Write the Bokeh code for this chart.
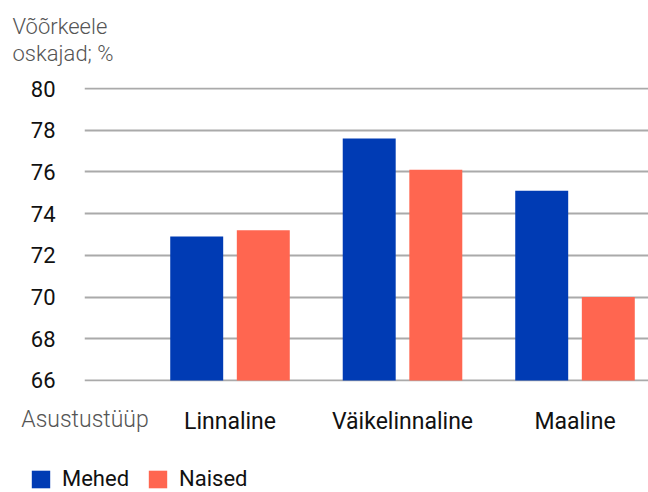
from bokeh.plotting import figure
from bokeh.layouts import column
from bokeh.models import (ColumnDataSource, Range1d, FixedTicker, Legend,
                          LegendItem, LinearAxis, Title)
from bokeh.transform import dodge
from bokeh.embed import file_html
from bokeh.resources import INLINE

categories = ["Linnaline", "Väikelinnaline", "Maaline"]
mehed = [72.9, 77.6, 75.1]
naised = [73.2, 76.1, 70.0]
y_ticks = [66, 68, 70, 72, 74, 76, 78, 80]
title_text = "Võõrkeele\noskajad; %"
x_title = "Asustustüüp"
series_names = ["Mehed", "Naised"]

BLUE = "#003bb4"
ORANGE = "#ff6650"
GREY = "#555555"

x_idx = list(range(len(categories)))
src = ColumnDataSource(dict(x=x_idx, mehed=mehed, naised=naised))

p = figure(width=648, height=462, output_backend="svg", toolbar_location=None,
           x_range=Range1d(-0.8435, 2.426), y_range=Range1d(65.952, 80.048),
           min_border_left=84, min_border_right=0, min_border_top=87,
           min_border_bottom=81)
p.outline_line_color = None
# pixel-like helper range for placing the x-axis title tick at the frame edge
p.extra_x_ranges = {"lab": Range1d(-0.5, 563.5)}

r1 = p.vbar(x=dodge("x", -0.193, range=p.x_range), top="mehed", bottom=66,
            width=0.307, source=src, color=BLUE, line_color=None)
r2 = p.vbar(x=dodge("x", 0.193, range=p.x_range), top="naised", bottom=66,
            width=0.307, source=src, color=ORANGE, line_color=None)


def strip(ax):
    ax.axis_line_color = None
    ax.major_tick_line_color = None
    ax.minor_tick_line_color = None
    ax.major_tick_out = 0
    ax.major_tick_in = 0


# x axis title as its own axis (closest to frame)
lab_axis = LinearAxis(x_range_name="lab", ticker=FixedTicker(ticks=[0]),
                      major_label_overrides={0: x_title})
strip(lab_axis)
lab_axis.major_label_standoff = 24
lab_axis.major_label_text_font = "Roboto Light"
lab_axis.major_label_text_font_size = "23px"
lab_axis.major_label_text_color = GREY

# category axis
xaxis = p.xaxis[0]
xaxis.ticker = FixedTicker(ticks=x_idx)
xaxis.major_label_overrides = {i: c for i, c in zip(x_idx, categories)}
strip(xaxis)
xaxis.major_label_standoff = -28
xaxis.major_label_text_font = "Roboto"
xaxis.major_label_text_font_size = "23px"
xaxis.major_label_text_color = "#111111"

p.yaxis.ticker = FixedTicker(ticks=y_ticks)
strip(p.yaxis[0])
p.yaxis.major_label_standoff = 29
p.yaxis.major_label_text_font = "Roboto"
p.yaxis.major_label_text_font_size = "22px"
p.yaxis.major_label_text_color = "#111111"

p.xgrid.grid_line_color = None
p.ygrid.ticker = FixedTicker(ticks=y_ticks)
p.ygrid.grid_line_color = "#aaaaaa"
p.ygrid.grid_line_width = 2

p.below = [lab_axis, xaxis]

spacer = Title(text=" ", text_font_size="2px", standoff=16)
title = Title(text=title_text, align="left", offset=-72,
              vertical_align="top", standoff=0,
              text_font="Roboto Light", text_font_size="22px",
              text_font_style="normal", text_color=GREY,
              text_line_height=1.097)
p.above = [spacer, title]

# legend strip below the chart
pl = figure(width=648, height=30, output_backend="svg", toolbar_location=None,
            x_axis_type=None, y_axis_type=None, min_border=0,
            x_range=Range1d(0, 1), y_range=Range1d(0, 1))
pl.frame_align = False
pl.outline_line_color = None
pl.grid.grid_line_color = None
l1 = pl.vbar(x="x", top="mehed", bottom=66, width=0.3, source=src,
             color=BLUE, line_color=None, visible=False)
l2 = pl.vbar(x="x", top="naised", bottom=66, width=0.3, source=src,
             color=ORANGE, line_color=None, visible=False)
legend = Legend(items=[LegendItem(label=series_names[0], renderers=[l1]),
                       LegendItem(label=series_names[1], renderers=[l2])],
                orientation="horizontal", location=(29, 1),
                glyph_width=23, glyph_height=22, label_standoff=10, spacing=17,
                padding=0, margin=0, border_line_color=None,
                background_fill_alpha=0, inactive_fill_alpha=0,
                label_text_font="Roboto",
                label_text_font_size="22px", label_text_color="#111111")
pl.add_layout(legend, "center")

layout = column(p, pl, spacing=0)
open("out.html", "w").write(file_html(layout, INLINE))
